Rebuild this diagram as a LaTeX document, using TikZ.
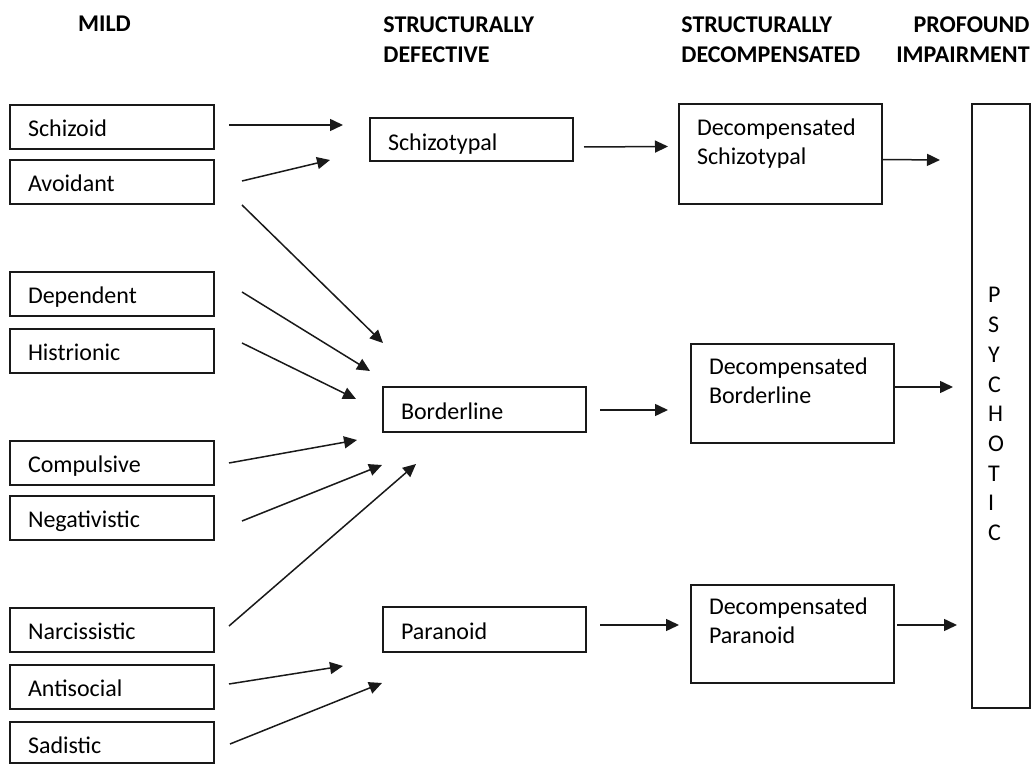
\documentclass[tikz,border=0pt]{standalone}
\usepackage{fontspec}
\setmainfont{Carlito}
\usetikzlibrary{arrows.meta,calc}

\begin{document}
\begin{tikzpicture}[x=0.5pt,y=-0.5pt,
  every node/.style={font=\fontsize{12}{14.5}\selectfont},
  box/.style={draw=black!90, line width=1pt, anchor=north west, inner xsep=9pt,
              inner ysep=0pt, outer sep=0pt, align=left, text height=16pt},
  lbox/.style={box, text width=84pt, text depth=6pt},
  mbox/.style={box, text width=83.5pt, text height=16.5pt, text depth=#1},
  dbox/.style={box, text width=83.5pt, text depth=34pt},
  head/.style={font=\bfseries\fontsize{12}{15}\selectfont, inner sep=0pt, align=left},
  arr/.style={line width=0.75pt, draw=black!90, -{Triangle[length=6.5pt,width=6pt]}}]

\useasboundingbox (0,0) rectangle (1035,764);

% column headings
\node[head, anchor=north] (hmild) at (104.5,16) {MILD};
\node[head, anchor=north west] (hdef) at (383,16) {STRUCTURALLY\\DEFECTIVE};
\node[head, anchor=north west] (hdec) at (681,16) {STRUCTURALLY\\DECOMPENSATED};
\node[head, anchor=north east, align=right] (hpro) at (1030,16) {PROFOUND\\IMPAIRMENT};

% mild personality patterns
\node[lbox] (sch) at (10,105) {Schizoid};
\node[lbox] (avo) at (10,160) {Avoidant};
\node[lbox] (dep) at (10,272) {Dependent};
\node[lbox] (his) at (10,329) {Histrionic};
\node[lbox] (com) at (10,441) {Compulsive};
\node[lbox] (neg) at (10,496) {Negativistic};
\node[lbox] (nar) at (10,608) {Narcissistic};
\node[lbox] (ant) at (10,665) {Antisocial};
\node[lbox, text depth=4.5pt] (sad) at (10,722) {Sadistic};

% structurally defective
\node[mbox=5pt] (sty) at (370,118) {Schizotypal};
\node[mbox=6pt] (bor) at (383,387) {Borderline};
\node[mbox=6pt] (par) at (383,607) {Paranoid};

% structurally decompensated
\node[dbox] (dsty) at (679,104) {Decompensated\\Schizotypal};
\node[dbox, text height=15.5pt, text depth=34pt] (dbor) at (691,344) {Decompensated\\Borderline};
\node[dbox, text height=15pt, text depth=34pt] (dpar) at (691,585) {Decompensated\\Paranoid};

% profound impairment
\node[box, inner xsep=8pt, text width=13pt, text height=99.5pt, text depth=202.5pt,
      font=\fontsize{12}{14.85}\selectfont] (psy) at (972,104)
  {P\\S\\Y\\C\\H\\O\\T\\I\\C};

% mild -> structurally defective
\draw[arr] ($(sch.east)+(15,-2)$)  -- ($(sty.west)+(-27,-14.5)$);
\draw[arr] ($(avo.east)+(28,-1)$)  -- ($(sty.west)+(-40,20.5)$);
\draw[arr] ($(avo.east)+(28,23)$)  -- ($(bor.west)+(0,-66.5)$);
\draw[arr] ($(dep.east)+(28,-2)$)  -- ($(bor.west)+(-13,-38.5)$);
\draw[arr] ($(his.east)+(28,-8)$)  -- ($(bor.west)+(-27,-10.5)$);
\draw[arr] ($(com.east)+(15,0)$)   -- ($(bor.west)+(-26,30.5)$);
\draw[arr] ($(neg.east)+(28,3)$)   -- ($(bor.west)+(-1,55.5)$);
\draw[arr] ($(nar.east)+(15,-4)$)  -- ($(bor.west)+(33,54.5)$);
\draw[arr] ($(ant.east)+(15,-3)$)  -- ($(par.west)+(-40,36.5)$);
\draw[arr] ($(sad.east)+(16,1.5)$) -- ($(par.west)+(-1,53.5)$);

% structurally defective -> decompensated
\draw[arr] ($(sty.east)+(11,7.5)$)  -- ($(dsty.west)+(-11,-7.5)$);
\draw[arr] ($(bor.east)+(14,0.5)$)  -- ($(dbor.west)+(-23,16.5)$);
\draw[arr] ($(par.east)+(14,-4.5)$) -- ($(dpar.west)+(-12,-9)$);

% decompensated -> psychotic
\draw[arr] ($(dsty.east)+(0,5.5)$)  -- ($(psy.west)+(-32,-246)$);
\draw[arr] ($(dbor.east)+(0,-6.5)$) -- ($(psy.west)+(-19,-19)$);
\draw[arr] ($(dpar.east)+(3,-9)$)   -- ($(psy.west)+(-15,219)$);

\end{tikzpicture}
\end{document}
